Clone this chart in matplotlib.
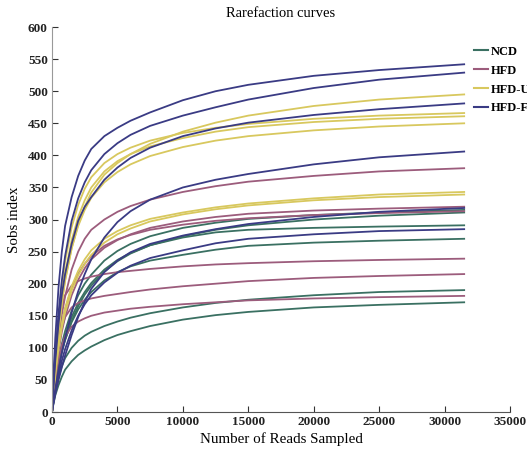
import numpy as np
import matplotlib.pyplot as plt

plt.rcParams['font.family'] = ['Liberation Serif', 'DejaVu Serif']

reads = [0, 100, 250, 500, 750, 1000, 1500, 2000, 2500, 3000, 4000, 5000,
         6000, 7500, 10000, 12500, 15000, 20000, 25000, 31500]

ncd = [
    [0, 20, 46, 80, 106, 126, 158, 182, 200, 214, 236, 251, 262, 274, 287, 295, 301, 307, 311, 315],
    [0, 17, 40, 70, 94, 112, 142, 165, 183, 197, 219, 235, 247, 260, 274, 284, 291, 300, 306, 311],
    [0, 18, 42, 74, 99, 118, 148, 170, 187, 201, 222, 237, 248, 260, 272, 280, 284, 287, 289, 291],
    [0, 18, 42, 72, 95, 113, 140, 160, 175, 187, 205, 218, 227, 236, 245, 253, 259, 264, 267, 270],
    [0, 15, 32, 54, 71, 84, 100, 111, 119, 125, 134, 141, 147, 154, 163, 170, 175, 182, 187, 190],
    [0, 12, 26, 42, 55, 66, 79, 89, 96, 102, 112, 120, 126, 134, 144, 151, 156, 163, 167, 171],
]
hfd = [
    [0, 28, 65, 115, 152, 180, 222, 250, 270, 284, 300, 312, 321, 331, 343, 352, 359, 368, 375, 380],
    [0, 25, 55, 95, 125, 148, 182, 206, 224, 238, 256, 268, 277, 287, 297, 304, 309, 314, 317, 320],
    [0, 28, 62, 105, 137, 160, 193, 215, 231, 243, 259, 269, 276, 284, 292, 298, 302, 307, 310, 313],
    [0, 40, 85, 135, 165, 182, 197, 204, 208, 211, 215, 218, 220, 223, 227, 230, 232, 235, 237, 239],
    [0, 30, 65, 105, 132, 148, 163, 170, 174, 177, 181, 184, 187, 191, 196, 200, 204, 209, 212, 215],
    [0, 22, 50, 82, 104, 118, 133, 141, 146, 150, 155, 158, 161, 164, 168, 171, 174, 177, 179, 181],
]
hfd_u = [
    [0, 30, 70, 125, 168, 205, 255, 292, 320, 342, 370, 388, 402, 418, 437, 451, 462, 477, 487, 495],
    [0, 35, 82, 145, 195, 235, 288, 323, 348, 366, 388, 402, 412, 423, 435, 443, 449, 457, 462, 466],
    [0, 32, 75, 132, 178, 215, 268, 304, 330, 350, 375, 391, 402, 414, 427, 437, 444, 452, 457, 461],
    [0, 32, 72, 128, 172, 205, 255, 290, 315, 334, 358, 374, 386, 399, 413, 423, 430, 439, 445, 450],
    [0, 28, 62, 106, 138, 162, 196, 220, 238, 252, 270, 282, 291, 301, 311, 319, 325, 333, 339, 343],
    [0, 26, 58, 100, 131, 155, 189, 213, 231, 245, 264, 277, 286, 297, 308, 316, 322, 330, 335, 339],
]
hfd_fi = [
    [0, 55, 115, 195, 250, 290, 335, 368, 392, 410, 430, 443, 454, 467, 486, 500, 510, 524, 533, 542],
    [0, 40, 90, 155, 205, 243, 298, 333, 358, 377, 402, 419, 432, 446, 462, 475, 487, 505, 518, 529],
    [0, 35, 80, 138, 183, 215, 262, 298, 320, 335, 362, 381, 396, 412, 430, 442, 451, 463, 472, 481],
    [0, 15, 35, 65, 92, 115, 155, 188, 215, 238, 272, 296, 313, 331, 350, 362, 371, 386, 397, 406],
    [0, 12, 28, 50, 70, 88, 120, 148, 172, 192, 218, 236, 249, 262, 275, 285, 293, 304, 312, 318],
    [0, 14, 32, 58, 80, 98, 127, 150, 168, 182, 202, 217, 228, 240, 252, 263, 270, 277, 282, 285],
]

groups = ['NCD', 'HFD', 'HFD-U', 'HFD-FI']
colors = ['#3a7062', '#9c5c7c', '#d8c85e', '#3a3b84']

fig = plt.figure(figsize=(5.27, 4.55), dpi=100)
ax = fig.add_axes([0.0987, 0.0945, 0.869, 0.846])

for name, col, curves in zip(groups, colors, [ncd, hfd, hfd_u, hfd_fi]):
    for i, c in enumerate(curves):
        ax.plot(reads, c, color=col, lw=1.3, label=name if i == 0 else None)

ax.set_xlim(0, 35000)
ax.set_ylim(0, 600)
ax.set_xticks(np.arange(0, 35001, 5000))
ax.set_yticks(np.arange(0, 601, 50))
for s in ['top', 'right']:
    ax.spines[s].set_visible(False)
ax.spines['bottom'].set_color('#555555')
ax.spines['left'].set_color('#999999')
ax.tick_params(direction='in', length=4, width=0.8, labelsize=9.5, colors='#333333', pad=3)
for lab in ax.get_xticklabels() + ax.get_yticklabels():
    lab.set_fontweight('bold')
    lab.set_color('#222222')
ax.set_xlabel('Number of Reads Sampled', fontsize=10.8, labelpad=3)
ax.set_ylabel('Sobs index', fontsize=10.8, labelpad=5)
ax.set_title('Rarefaction curves', fontsize=10.5, pad=7)

leg = ax.legend(loc='upper left', bbox_to_anchor=(0.888, 0.913), bbox_transform=fig.transFigure,
                frameon=False, borderpad=0, handlelength=1.1, handletextpad=0.2,
                labelspacing=0.55, prop={'weight': 'bold', 'size': 9})
for h in leg.get_lines():
    h.set_linewidth(1.5)

fig.savefig('out.png', dpi=100)
